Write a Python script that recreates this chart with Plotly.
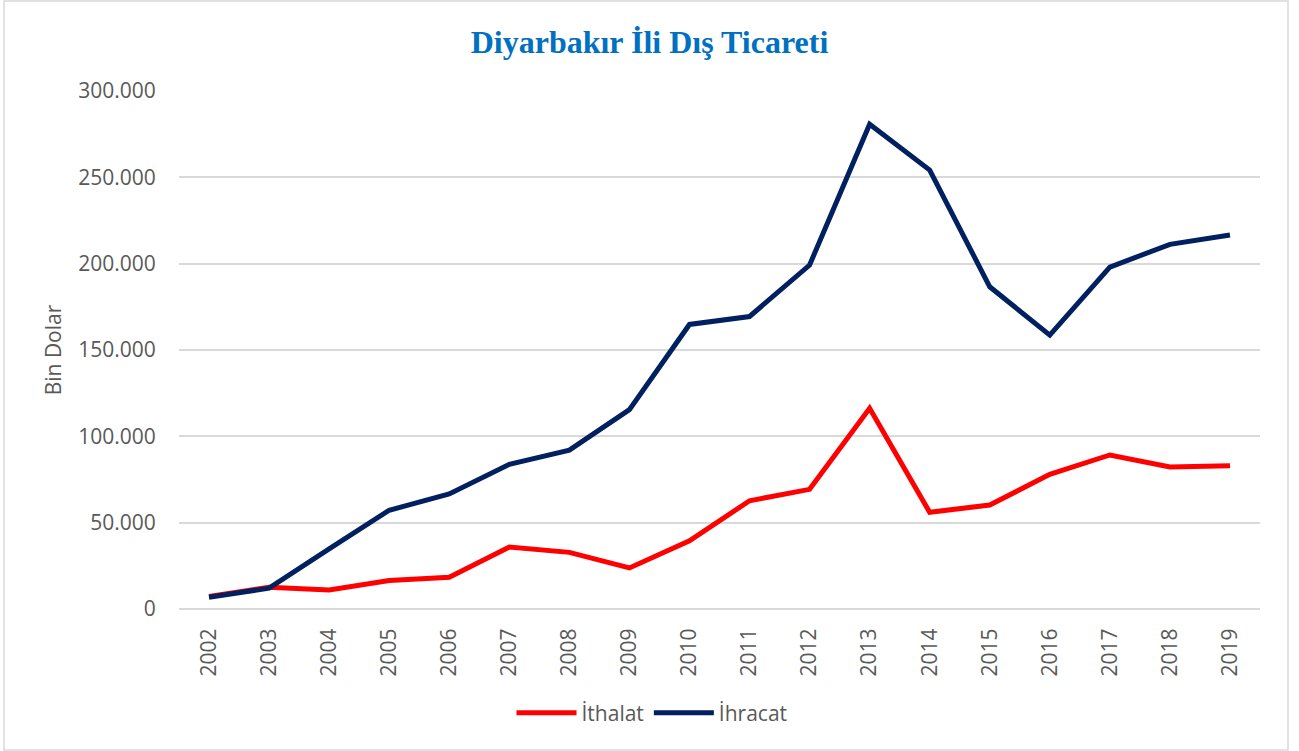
import plotly.graph_objects as go

years = [str(y) for y in range(2002, 2020)]
ithalat = [7300, 12600, 11000, 16500, 18400, 35900, 32800, 23800, 39500, 62700,
           69300, 116200, 56000, 60200, 78000, 89200, 82200, 83000]
ihracat = [6800, 12100, 34800, 57200, 66600, 83800, 92000, 115500, 164800, 169400,
           199200, 280800, 254200, 186600, 158600, 198000, 211200, 216600]
tick_vals = [0, 50000, 100000, 150000, 200000, 250000, 300000]
tick_text = ["0", "50.000", "100.000", "150.000", "200.000", "250.000", "300.000"]

W, H = 1299, 751
L, R, T, B = 179, 39, 91, 142
PW, PH = W - L - R, H - T - B

fig = go.Figure()
fig.add_trace(go.Scatter(x=years, y=ithalat, mode="lines", name="İthalat",
                         line=dict(color="#FF0000", width=5)))
fig.add_trace(go.Scatter(x=years, y=ihracat, mode="lines", name="İhracat",
                         line=dict(color="#002060", width=5)))

fig.update_layout(
    width=W, height=H,
    margin=dict(l=L, r=R, t=T, b=B),
    paper_bgcolor="white", plot_bgcolor="white",
    title=dict(text="<b>Diyarbakır İli Dış Ticareti</b>", x=0.5, xanchor="center",
               y=1 - 42 / H, yanchor="middle",
               font=dict(family="Liberation Serif", size=32, color="#0070C0")),
    font=dict(family="Open Sans", size=21, color="#595959"),
    showlegend=True,
    legend=dict(orientation="h", x=(652 - L) / PW, xanchor="center",
                y=(H - B - 713) / PH, yanchor="middle",
                font=dict(size=21, color="#595959"), itemwidth=60),
    shapes=[dict(type="rect", xref="paper", yref="paper",
                 x0=(4 - L) / PW, x1=(1288 - L) / PW,
                 y0=(H - B - 750) / PH, y1=(H - B - 1) / PH,
                 line=dict(color="#D9D9D9", width=1.5), layer="below")],
)
fig.update_xaxes(type="category", range=[-0.5, 17.5], tickangle=-90, showgrid=False,
                 showline=False, ticks="outside", ticklen=10, tickcolor="rgba(0,0,0,0)",
                 tickfont=dict(size=21, color="#595959"), zeroline=False)
fig.update_yaxes(range=[0, 300000], tickvals=tick_vals, ticktext=tick_text,
                 showgrid=True, gridcolor="#D9D9D9", gridwidth=1.5, zeroline=True,
                 zerolinecolor="#D9D9D9", zerolinewidth=1.5, showline=False,
                 ticks="outside", ticklen=18, tickcolor="rgba(0,0,0,0)",
                 title=dict(text="Bin Dolar", font=dict(size=21, color="#595959"), standoff=10),
                 tickfont=dict(size=21, color="#595959"))

fig.write_html("out.html", config={"displayModeBar": False},
               post_script="document.body.style.margin='0';")
